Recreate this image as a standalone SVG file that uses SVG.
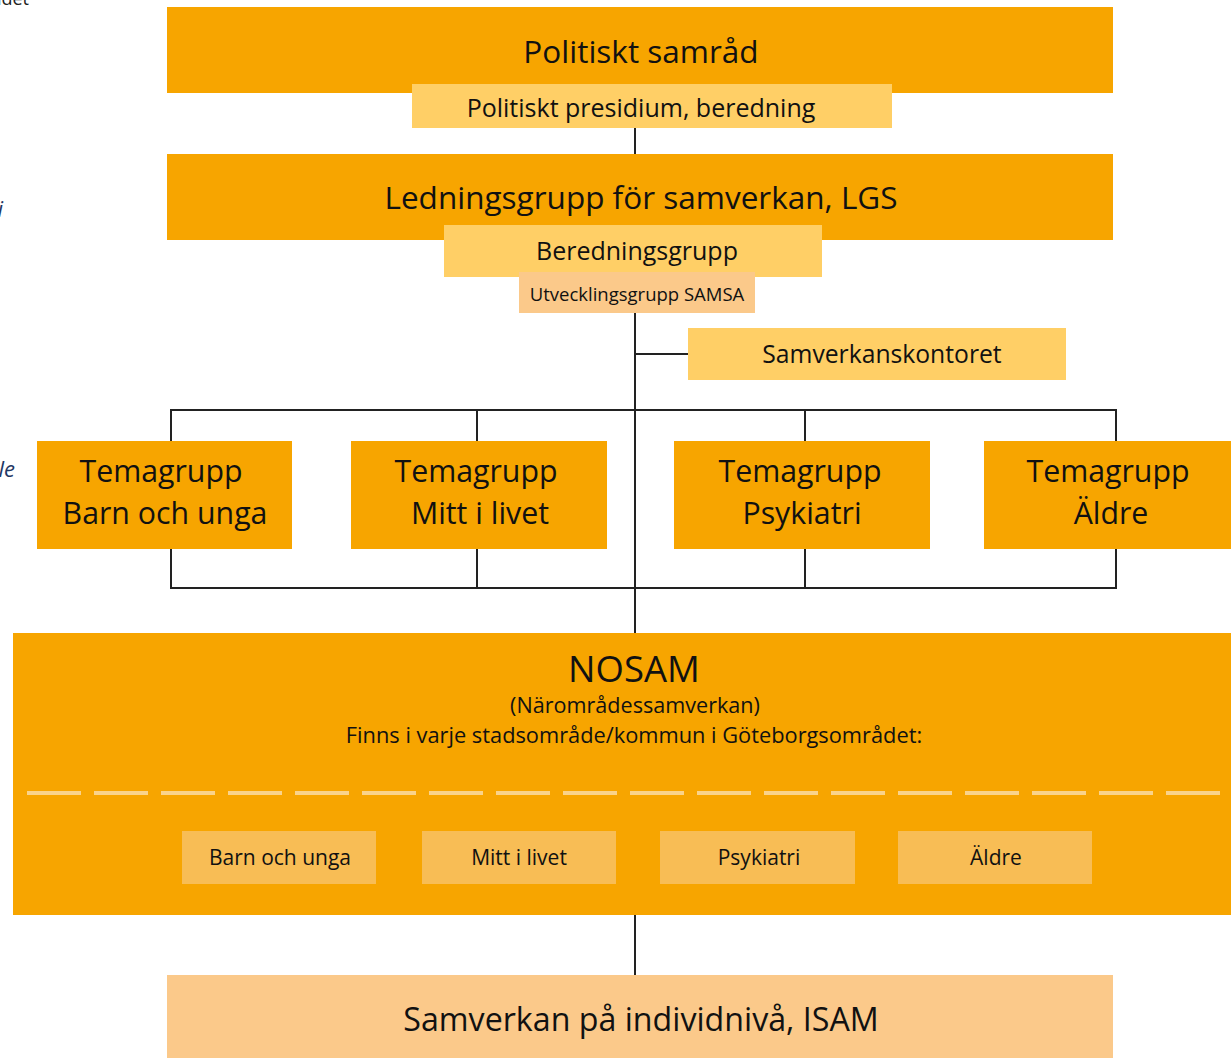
<svg xmlns="http://www.w3.org/2000/svg" width="1231" height="1058" viewBox="0 0 1231 1058">
<style>
text{font-family:"Open Sans","Noto Sans","Liberation Sans",sans-serif;fill:#111;text-anchor:middle;dominant-baseline:central}
.o{fill:#F7A500}
.y{fill:#FFCF66}
.p{fill:#FBC98A}
.s{fill:#F8BD55}
.ln{stroke:#222;stroke-width:2;fill:none}
.side{fill:#1F3864;font-style:italic;text-anchor:end}
</style>
<rect width="1231" height="1058" fill="#fff"/>
<g id="connectors">
<line class="ln" x1="635" y1="128" x2="635" y2="154"/>
<line class="ln" x1="635" y1="313" x2="635" y2="633"/>
<line class="ln" x1="635" y1="354" x2="688" y2="354"/>
<polyline class="ln" points="171,441 171,410 1116,410 1116,441"/>
<line class="ln" x1="477" y1="410" x2="477" y2="441"/>
<line class="ln" x1="805" y1="410" x2="805" y2="441"/>
<polyline class="ln" points="171,549 171,588 1116,588 1116,549"/>
<line class="ln" x1="477" y1="549" x2="477" y2="588"/>
<line class="ln" x1="805" y1="549" x2="805" y2="588"/>
<line class="ln" x1="635" y1="915" x2="635" y2="975"/>
</g>
<g id="side-labels">
<text class="side" x="29" y="-2" font-size="18" style="fill:#222;font-style:normal">rådet</text>
<text class="side" x="3" y="208" font-size="22">i</text>
<text class="side" x="15" y="468" font-size="22">le</text>
</g>
<g id="politiskt-samrad">
<rect class="o" x="167" y="7" width="946" height="86"/>
<text x="641" y="50" font-size="31.5">Politiskt samråd</text>
</g>
<g id="politiskt-presidium">
<rect class="y" x="412" y="84" width="480" height="44"/>
<text x="641" y="107" font-size="25">Politiskt presidium, beredning</text>
</g>
<g id="lgs">
<rect class="o" x="167" y="154" width="946" height="86"/>
<text x="641" y="196" font-size="31.5">Ledningsgrupp för samverkan, LGS</text>
</g>
<g id="beredningsgrupp">
<rect class="y" x="444" y="225" width="378" height="52"/>
<text x="637" y="250" font-size="25">Beredningsgrupp</text>
</g>
<g id="utvecklingsgrupp">
<rect class="p" x="519" y="272" width="236" height="41"/>
<text x="637" y="293" font-size="18.5">Utvecklingsgrupp SAMSA</text>
</g>
<g id="samverkanskontoret">
<rect class="y" x="688" y="328" width="378" height="52"/>
<text x="882" y="353" font-size="24.7">Samverkanskontoret</text>
</g>
<g id="tema-barn">
<rect class="o" x="37" y="441" width="255" height="108"/>
<text x="161" y="470" font-size="30.3">Temagrupp</text>
<text x="165" y="512" font-size="30.3">Barn och unga</text>
</g>
<g id="tema-mitt">
<rect class="o" x="351" y="441" width="256" height="108"/>
<text x="476" y="470" font-size="30.3">Temagrupp</text>
<text x="480" y="512" font-size="30.3">Mitt i livet</text>
</g>
<g id="tema-psykiatri">
<rect class="o" x="674" y="441" width="256" height="108"/>
<text x="800" y="470" font-size="30.3">Temagrupp</text>
<text x="802" y="512" font-size="30.3">Psykiatri</text>
</g>
<g id="tema-aldre">
<rect class="o" x="984" y="441" width="247" height="108"/>
<text x="1108" y="470" font-size="30.3">Temagrupp</text>
<text x="1111" y="512" font-size="30.3">Äldre</text>
</g>
<g id="nosam">
<rect class="o" x="13" y="633" width="1218" height="282"/>
<text x="634" y="668" font-size="36.5">NOSAM</text>
<text x="635" y="704" font-size="21.6">(Närområdessamverkan)</text>
<text x="634" y="734" font-size="21.8">Finns i varje stadsområde/kommun i Göteborgsområdet:</text>
<line x1="27" y1="793" x2="1231" y2="793" stroke="#FAD38B" stroke-width="4" stroke-dasharray="54 13"/>
</g>
<g id="nosam-barn">
<rect class="s" x="182" y="831" width="194" height="53"/>
<text x="280" y="857" font-size="21">Barn och unga</text>
</g>
<g id="nosam-mitt">
<rect class="s" x="422" y="831" width="194" height="53"/>
<text x="519" y="857" font-size="21">Mitt i livet</text>
</g>
<g id="nosam-psykiatri">
<rect class="s" x="660" y="831" width="195" height="53"/>
<text x="759" y="857" font-size="21">Psykiatri</text>
</g>
<g id="nosam-aldre">
<rect class="s" x="898" y="831" width="194" height="53"/>
<text x="996" y="857" font-size="21">Äldre</text>
</g>
<g id="isam">
<rect class="p" x="167" y="975" width="946" height="83"/>
<text x="641" y="1018" font-size="32.2">Samverkan på individnivå, ISAM</text>
</g>
</svg>
